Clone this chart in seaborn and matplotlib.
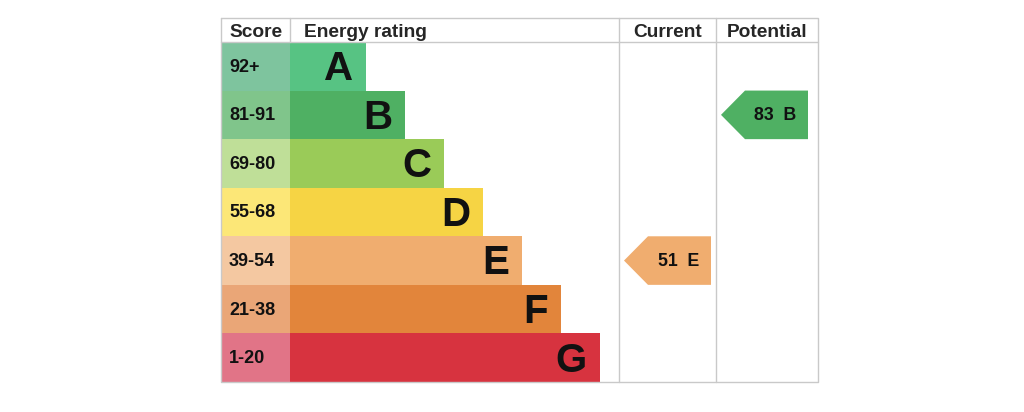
import numpy as np
import pandas as pd
import matplotlib
matplotlib.use("Agg")
import matplotlib.pyplot as plt
import seaborn as sns

# EPC bands
bands = ["A", "B", "C", "D", "E", "F", "G"]
score_ranges = ["92+", "81-91", "69-80", "55-68", "39-54", "21-38", "1-20"]
band_min = [92, 81, 69, 55, 39, 21, 1]
bar_colors = ["#57c383", "#4fb063", "#9acb58", "#f6d444", "#f0ad6f", "#e2853b", "#d7333f"]
score_colors = ["#7ec49e", "#80c58b", "#bfdf98", "#fce777", "#f4c8a1", "#eaa677", "#e17487"]
current_score = 51
potential_score = 83

sns.set_theme(style="white")
plt.rcParams["font.family"] = ["Liberation Sans", "DejaVu Sans"]

W, H = 1024, 412
fig = plt.figure(figsize=(W / 100, H / 100), dpi=100)

# table geometry (pixels)
tbl_left, tbl_right, tbl_top, tbl_bottom = 221, 818, 18, 382
head_h = 24
row_h = (tbl_bottom - tbl_top - head_h) / len(bands)
score_w = 69
bar_base, bar_step = 76, 39
cur_col, pot_col = 619 - tbl_left, 716 - tbl_left
tbl_w = tbl_right - tbl_left

ax = fig.add_axes([tbl_left / W, (H - tbl_bottom) / H, tbl_w / W, (tbl_bottom - tbl_top) / H])

df = pd.DataFrame({
    "band": bands,
    "score": score_ranges,
    "total": [score_w + bar_base + bar_step * i for i in range(len(bands))],
    "cell": [score_w] * len(bands),
})

sns.barplot(data=df, x="total", y="band", hue="band", orient="h",
            palette=dict(zip(bands, bar_colors)), saturation=1, width=1.0,
            linewidth=0, legend=False, ax=ax)
sns.barplot(data=df, x="cell", y="band", hue="band", orient="h",
            palette=dict(zip(bands, score_colors)), saturation=1, width=1.0,
            linewidth=0, legend=False, ax=ax)

top = -0.5 - head_h / row_h
ax.set_xlim(0, tbl_w)
ax.set_ylim(len(bands) - 0.5, top)
ax.axis("off")

# grid lines
lc, lw = "#c9c9c9", 1.0
ax.plot([0, tbl_w, tbl_w, 0, 0], [top, top, len(bands) - 0.5, len(bands) - 0.5, top],
        color=lc, lw=lw, clip_on=False)
ax.plot([0, tbl_w], [-0.5, -0.5], color=lc, lw=lw, clip_on=False)
for xv in [cur_col, pot_col]:
    ax.plot([xv, xv], [top, len(bands) - 0.5], color=lc, lw=lw, clip_on=False)
ax.plot([score_w, score_w], [top, -0.5], color=lc, lw=lw, clip_on=False)

# header text
hy = (top - 0.5) / 2 + 0.06
hfs = 13.8
ax.text(8, hy, "Score", fontsize=hfs, fontweight="bold", va="center", ha="left")
ax.text(score_w + 14, hy, "Energy rating", fontsize=hfs, fontweight="bold", va="center", ha="left")
ax.text((cur_col + pot_col) / 2, hy, "Current", fontsize=hfs, fontweight="bold", va="center", ha="center")
ax.text((pot_col + tbl_w) / 2, hy, "Potential", fontsize=hfs, fontweight="bold", va="center", ha="center")

# row labels
for i, (b, s, t) in enumerate(zip(bands, score_ranges, df["total"])):
    ax.text(8, i + 0.02, s, fontsize=13, fontweight="bold", va="center", ha="left", color="#111111")
    ax.text(t - 13, i + 0.06, b, fontsize=29, fontweight="bold", va="center", ha="right", color="#111111")


def band_of(score):
    for i, m in enumerate(band_min):
        if score >= m:
            return i
    return len(bands) - 1


def arrow(col_left, score):
    i = band_of(score)
    tip = col_left + 5
    body = tip + 24
    right = tip + 87
    xs = [tip, body, right, right, body]
    ys = [i, i - 0.5, i - 0.5, i + 0.5, i + 0.5]
    ax.fill(xs, ys, color=bar_colors[i], lw=0)
    ax.text((body + right) / 2 - 1, i + 0.02, f"{score}  {bands[i]}", fontsize=12.8,
            fontweight="bold", va="center", ha="center", color="#111111")


arrow(cur_col, current_score)
arrow(pot_col, potential_score)

fig.savefig("out.png", dpi=100)
